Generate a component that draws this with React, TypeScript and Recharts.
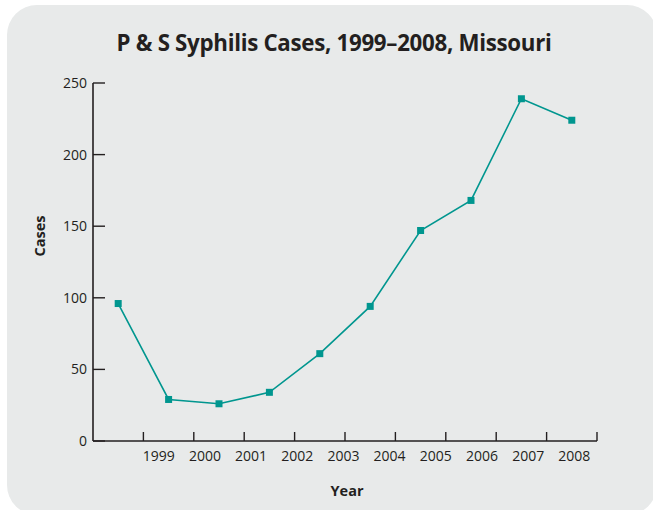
import React from 'react';
import { LineChart, Line, XAxis, YAxis } from 'recharts';

const years = [1999, 2000, 2001, 2002, 2003, 2004, 2005, 2006, 2007, 2008];
const cases = [96, 29, 26, 34, 61, 94, 147, 168, 239, 224];
const yTicks = [0, 50, 100, 150, 200, 250];
const bandEdges = [1999.5, 2000.5, 2001.5, 2002.5, 2003.5, 2004.5, 2005.5, 2006.5, 2007.5, 2008.5];

const data = years.map((year, i) => ({ year, cases: cases[i] }));

const TEAL = '#00968f';
const INK = '#231f20';
const FONT = '"Open Sans", "Noto Sans", sans-serif';

const SquareDot = (props: any) => {
  const { cx, cy } = props;
  if (cx == null || cy == null) return null;
  return <rect x={cx - 3.5} y={cy - 3.5} width={7} height={7} fill={TEAL} />;
};

export default function App() {
  return (
    <div style={{ position: 'fixed', left: 0, top: 0, width: 653, height: 510, overflow: 'hidden', background: '#ffffff', fontFamily: FONT }}>
      <div style={{ position: 'absolute', left: 7, top: 5, width: 650, height: 510, borderRadius: 30, background: '#e8eaea' }} />
      <div style={{ position: 'absolute', left: 0, top: 27, width: 668, textAlign: 'center', fontSize: 22.3, fontWeight: 700, color: INK, lineHeight: '32px', letterSpacing: -0.3 }}>
        P &amp; S Syphilis Cases, 1999–2008, Missouri
      </div>
      <div style={{ position: 'absolute', left: 300, top: 480, width: 94, textAlign: 'center', fontSize: 14.5, fontWeight: 700, color: INK, lineHeight: '22px' }}>
        Year
      </div>
      <div style={{ position: 'absolute', left: 0, top: 225, width: 80, height: 22, textAlign: 'center', fontSize: 14.5, fontWeight: 700, color: INK, lineHeight: '22px', transform: 'rotate(-90deg)', transformOrigin: '40px 11px' }}>
        Cases
      </div>
      <LineChart
        width={653}
        height={510}
        data={data}
        margin={{ top: 83, right: 56, bottom: 0, left: 33 }}
        style={{ position: 'absolute', left: 0, top: 0 }}
      >
        <XAxis
          dataKey="year"
          type="number"
          domain={[1998.5, 2008.5]}
          ticks={bandEdges}
          tickSize={-9}
          tickFormatter={() => ''}
          height={1}
          axisLine={{ stroke: INK, strokeWidth: 1.6 }}
          tickLine={{ stroke: INK, strokeWidth: 1.4 }}
          allowDataOverflow
        />
        <XAxis
          xAxisId="labels"
          dataKey="year"
          type="number"
          domain={[1997.577, 2008.491]}
          ticks={years}
          height={68}
          axisLine={false}
          tickLine={false}
          tickSize={6}
          tickMargin={3}
          interval={0}
          allowDataOverflow
          tick={{ fill: INK, fontSize: 14, fontFamily: FONT }}
        />
        <YAxis
          type="number"
          domain={[0, 250]}
          ticks={yTicks}
          width={60}
          tickSize={-12}
          tickMargin={18}
          interval={0}
          axisLine={{ stroke: INK, strokeWidth: 1.6 }}
          tickLine={{ stroke: INK, strokeWidth: 1.4 }}
          tick={{ fill: INK, fontSize: 14, fontFamily: FONT }}
        />
        <Line
          xAxisId="labels"
          dataKey="cases"
          stroke="none"
          dot={false}
          activeDot={false}
          legendType="none"
          isAnimationActive={false}
        />
        <Line
          dataKey="cases"
          stroke={TEAL}
          strokeWidth={1.6}
          dot={<SquareDot />}
          activeDot={false}
          isAnimationActive={false}
        />
      </LineChart>
    </div>
  );
}
